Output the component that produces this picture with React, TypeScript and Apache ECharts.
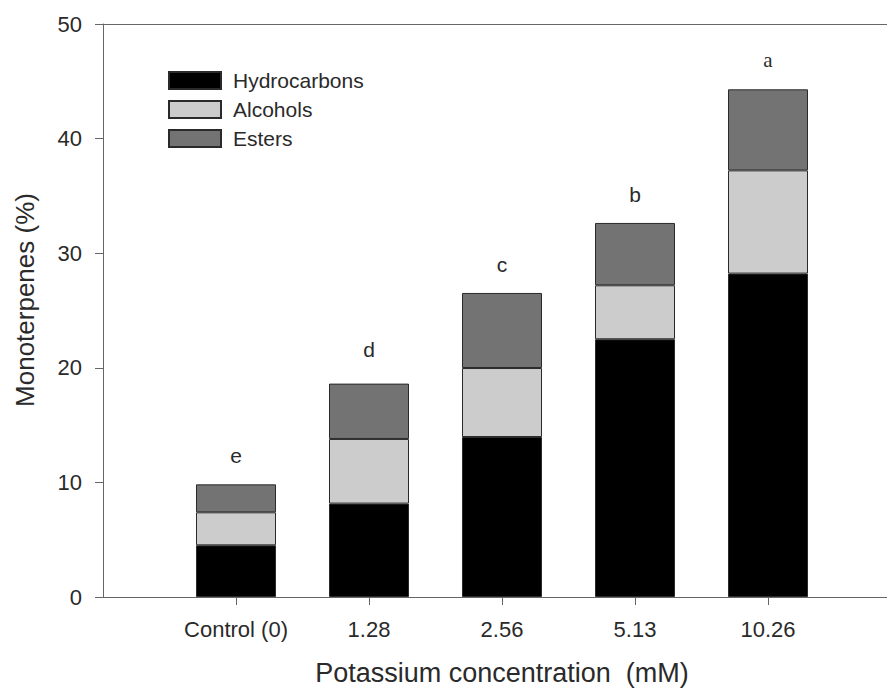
import React, { useEffect, useRef } from "react";
import * as echarts from "echarts";

const categories = ["", "Control (0)", "1.28", "2.56", "5.13", "10.26", ""];
const hydrocarbons = [null, 4.51, 8.15, 13.96, 22.49, 28.22, null];
const alcohols = [null, 2.88, 5.64, 6.02, 4.71, 9.01, null];
const esters = [null, 2.44, 4.83, 6.55, 5.44, 7.07, null];
const letters = ["", "e", "d", "c", "b", "a", ""];
const yTicks = { min: 0, max: 50, interval: 10 };

const FONT = "'Liberation Sans', Arial, sans-serif";

export default function App() {
  const ref = useRef<HTMLDivElement>(null);
  useEffect(() => {
    if (!ref.current) return;
    const chart = echarts.init(ref.current, undefined, { renderer: "svg" });
    const border = { borderColor: "#2a2a2a", borderWidth: 1 };
    const esterData = esters.map((v, i) => {
      if (v === null) return null;
      const item: any = { value: v };
      if (letters[i] === "d") item.label = { distance: 24 };
      if (letters[i] === "a") item.label = { fontFamily: "'Liberation Serif', 'Times New Roman', serif", distance: 19 };
      return item;
    });
    chart.setOption({
      animation: false,
      backgroundColor: "#ffffff",
      textStyle: { fontFamily: FONT },
      grid: { left: 103, right: -14, top: 24, bottom: 92, containLabel: false, outerBoundsMode: "none" },
      legend: {
        orient: "vertical",
        left: 168,
        top: 70,
        padding: 0,
        itemWidth: 52,
        itemHeight: 17,
        itemGap: 8,
        icon: "rect",
        textStyle: { fontSize: 21, color: "#2a2a2a", fontFamily: FONT, padding: [0, 0, 0, 7] },
        data: ["Hydrocarbons", "Alcohols", "Esters"],
      },
      graphic: [
        {
          type: "text",
          x: 25,
          y: 300,
          rotation: Math.PI / 2,
          style: {
            text: "Monoterpenes (%)",
            fontSize: 26,
            fontFamily: FONT,
            fill: "#2a2a2a",
            align: "center",
            verticalAlign: "middle",
          },
        },
      ],
      xAxis: [
        {
          type: "category",
          data: categories,
          boundaryGap: false,
          position: "bottom",
          axisLine: { show: true, lineStyle: { color: "#666", width: 1 } },
          axisTick: {
            show: true,
            length: 8,
            interval: (i: number) => i >= 1 && i <= 5,
            lineStyle: { color: "#666" },
          },
          axisLabel: { interval: 0, fontSize: 22, color: "#2a2a2a", margin: 21, fontFamily: FONT },
          splitLine: { show: false },
          name: "Potassium concentration  (mM)",
          nameLocation: "middle",
          nameGap: 62,
          nameTextStyle: { fontSize: 27, color: "#2a2a2a", fontFamily: FONT },
        },
        {
          type: "category",
          data: categories,
          boundaryGap: false,
          position: "top",
          axisLine: { show: true, lineStyle: { color: "#666", width: 1 } },
          axisTick: { show: false },
          axisLabel: { show: false },
          splitLine: { show: false },
        },
      ],
      yAxis: {
        type: "value",
        min: yTicks.min,
        max: yTicks.max,
        interval: yTicks.interval,
        axisLine: { show: true, lineStyle: { color: "#666", width: 1 } },
        axisTick: { show: true, length: 8, lineStyle: { color: "#666" } },
        axisLabel: { fontSize: 22, color: "#2a2a2a", margin: 21, fontFamily: FONT },
        splitLine: { show: false },
      },
      series: [
        {
          name: "Hydrocarbons",
          type: "bar",
          stack: "total",
          barWidth: 80,
          data: hydrocarbons,
          itemStyle: { color: "#000000", ...border },
        },
        {
          name: "Alcohols",
          type: "bar",
          stack: "total",
          barWidth: 80,
          data: alcohols,
          itemStyle: { color: "#cccccc", ...border },
        },
        {
          name: "Esters",
          type: "bar",
          stack: "total",
          barWidth: 80,
          data: esterData,
          itemStyle: { color: "#737373", ...border },
          label: {
            show: true,
            position: "top",
            distance: 18,
            fontSize: 21,
            color: "#2a2a2a",
            fontFamily: FONT,
            formatter: (p: any) => letters[p.dataIndex],
          },
        },
      ],
    });
    return () => chart.dispose();
  }, []);
  return (
    <div
      ref={ref}
      style={{ position: "fixed", left: 0, top: 0, width: 887, height: 689, background: "#fff" }}
    />
  );
}
